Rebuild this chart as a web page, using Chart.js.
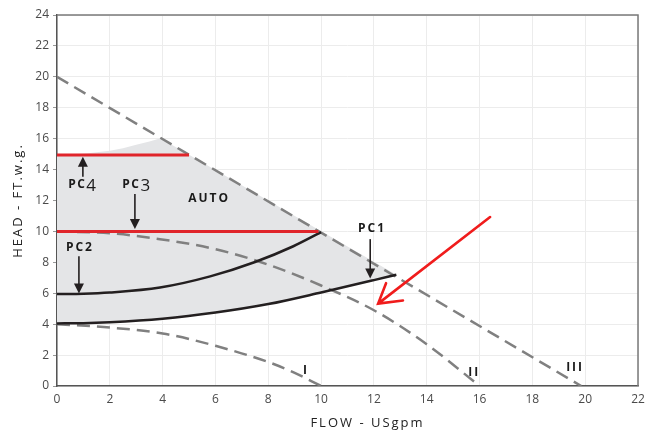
<!DOCTYPE html>
<html>
<head>
<meta charset="utf-8">
<script src="https://cdn.jsdelivr.net/npm/chart.js@4.4.1/dist/chart.umd.min.js"></script>
<style>
html,body{margin:0;padding:0;background:#fff;}
#wrap{width:647px;height:435px;position:relative;}
</style>
</head>
<body>
<div id="wrap"><canvas id="c" width="647" height="435"></canvas></div>
<script>
// ---- data ----
const xTicks = [0,2,4,6,8,10,12,14,16,18,20,22];
const yTicks = [0,2,4,6,8,10,12,14,16,18,20,22,24];

const curveIIIFlow = [0, 19.85];
const curveIIIHead = [20, 0];

const curveIIFlow = [0, 2, 3.9, 6, 8, 10, 12, 14, 16];
const curveIIHead = [10, 9.88, 9.5, 8.85, 7.85, 6.5, 4.9, 2.7, 0];

const curveIFlow = [0, 2, 4, 6, 8, 9, 10];
const curveIHead = [4.0, 3.78, 3.4, 2.6, 1.55, 0.85, 0];

const pc1Flow = [0, 1, 2, 4, 6, 8, 10, 12, 12.85];
const pc1Head = [4.05, 4.06, 4.12, 4.35, 4.75, 5.3, 6.05, 6.85, 7.2];

const pc2Flow = [0, 1, 2, 3.9, 5.8, 7.5, 8.95, 10.0];
const pc2Head = [5.95, 5.97, 6.05, 6.37, 7.09, 8.02, 9.04, 9.95];

const pc3Flow = [0, 9.9];
const pc3Head = [10, 10];

const pc4Flow = [0, 5.0];
const pc4Head = [14.95, 14.95];

const autoTopFlow = [0, 1, 2, 2.5, 3, 3.5, 3.92, 12.85];
const autoTopHead = [14.97, 15.02, 15.22, 15.38, 15.6, 15.82, 16.02, 7.2];

const curveLabels = ['I', 'II', 'III'];
const modeLabels = ['PC1', 'PC2', 'PC3', 'PC4', 'AUTO'];

// ---- helpers ----
const pts = (xs, ys) => xs.map((x, i) => ({x: x, y: ys[i]}));

const DASH_COLOR = '#808080';
const BLACK = '#231f20';
const RED = '#e0252b';

const datasets = [
  {label: 'III', data: pts(curveIIIFlow, curveIIIHead), borderColor: DASH_COLOR, borderWidth: 2.5, borderDash: [13, 7], tension: 0, order: 5},
  {label: 'II', data: pts(curveIIFlow, curveIIHead), borderColor: DASH_COLOR, borderWidth: 2.5, borderDash: [13, 7], cubicInterpolationMode: 'monotone', order: 5},
  {label: 'I', data: pts(curveIFlow, curveIHead), borderColor: DASH_COLOR, borderWidth: 2.5, borderDash: [13, 7], cubicInterpolationMode: 'monotone', order: 5},
  {label: 'PC1', data: pts(pc1Flow, pc1Head), borderColor: BLACK, borderWidth: 2.5, cubicInterpolationMode: 'monotone', order: 2},
  {label: 'PC2', data: pts(pc2Flow, pc2Head), borderColor: BLACK, borderWidth: 2.5, cubicInterpolationMode: 'monotone', order: 2},
  {label: 'PC3', data: pts(pc3Flow, pc3Head), borderColor: RED, borderWidth: 3, tension: 0, order: 1},
  {label: 'PC4', data: pts(pc4Flow, pc4Head), borderColor: RED, borderWidth: 3, tension: 0, order: 1},
  {label: 'AUTO', data: pts(autoTopFlow, autoTopHead), borderColor: 'rgba(0,0,0,0)', borderWidth: 0, tension: 0,
   fill: {target: 3}, backgroundColor: '#e4e5e7', order: 10}
];

// label / arrow placement (data coordinates)
const textMarks = [
  {t: 'PC', d: '4', x: 0.95, y: 13.0},
  {t: 'PC', d: '3', x: 3.0, y: 13.0},
  {t: 'AUTO', x: 5.72, y: 12.1},
  {t: 'PC2', x: 0.83, y: 8.94},
  {t: 'PC1', x: 11.89, y: 10.21},
  {t: 'I', x: 9.39, y: 0.98},
  {t: 'II', x: 15.76, y: 0.85},
  {t: 'III', x: 19.58, y: 1.19}
];
const blackArrows = [
  {x1: 0.98, y1: 13.53, x2: 0.98, y2: 14.83},
  {x1: 2.95, y1: 12.42, x2: 2.95, y2: 10.15},
  {x1: 0.83, y1: 8.39, x2: 0.83, y2: 5.98},
  {x1: 11.86, y1: 9.5, x2: 11.86, y2: 6.96}
];
const redArrow = {x1: 16.4, y1: 10.93, x2: 12.16, y2: 5.33, w1x: 13.1, w1y: 5.53, w2x: 12.46, w2y: 6.65};

const deco = {
  id: 'deco',
  afterDatasetsDraw(chart) {
    const ctx = chart.ctx;
    const xs = chart.scales.x, ys = chart.scales.y;
    const a = chart.chartArea;
    const X = v => xs.getPixelForValue(v), Y = v => ys.getPixelForValue(v);
    ctx.save();
    // frame (top / right)
    ctx.strokeStyle = '#7a7a7a';
    ctx.lineWidth = 1.5;
    ctx.beginPath();
    ctx.moveTo(a.left, a.top); ctx.lineTo(a.right, a.top); ctx.lineTo(a.right, a.bottom);
    ctx.stroke();

    // black arrows
    ctx.strokeStyle = BLACK; ctx.fillStyle = BLACK; ctx.lineWidth = 1.6;
    blackArrows.forEach(ar => {
      const x1 = X(ar.x1), y1 = Y(ar.y1), x2 = X(ar.x2), y2 = Y(ar.y2);
      const dir = Math.sign(y2 - y1);
      ctx.beginPath(); ctx.moveTo(x1, y1); ctx.lineTo(x2, y2 - dir * 8); ctx.stroke();
      ctx.beginPath();
      ctx.moveTo(x2, y2); ctx.lineTo(x2 - 5, y2 - dir * 10); ctx.lineTo(x2 + 5, y2 - dir * 10); ctx.closePath(); ctx.fill();
    });

    // red arrow
    ctx.strokeStyle = '#f01c1c'; ctx.lineWidth = 2.6; ctx.lineCap = 'round';
    ctx.beginPath();
    ctx.moveTo(X(redArrow.x1), Y(redArrow.y1)); ctx.lineTo(X(redArrow.x2), Y(redArrow.y2));
    ctx.moveTo(X(redArrow.w1x), Y(redArrow.w1y)); ctx.lineTo(X(redArrow.x2), Y(redArrow.y2)); ctx.lineTo(X(redArrow.w2x), Y(redArrow.w2y));
    ctx.stroke();

    // text labels
    ctx.fillStyle = '#1a1a1a';
    ctx.textBaseline = 'middle';
    textMarks.forEach(m => {
      ctx.letterSpacing = '2px';
      ctx.font = 'bold 12px "Open Sans"';
      if (m.d) {
        ctx.letterSpacing = '1.5px';
        const w1 = ctx.measureText(m.t).width;
        ctx.font = '17px "Open Sans"';
        ctx.letterSpacing = '0px';
        const w2 = ctx.measureText(m.d).width;
        const x0 = X(m.x) - (w1 + w2) / 2;
        ctx.textAlign = 'left';
        ctx.font = 'bold 12px "Open Sans"'; ctx.letterSpacing = '1.5px';
        ctx.fillText(m.t, x0, Y(m.y));
        ctx.font = '17px "Open Sans"'; ctx.letterSpacing = '0px';
        ctx.fillText(m.d, x0 + w1, Y(m.y) + 1.5);
      } else {
        ctx.textAlign = 'center';
        ctx.fillText(m.t, X(m.x) + 1, Y(m.y));
      }
    });

    // axis titles
    ctx.letterSpacing = '2px';
    ctx.fillStyle = '#222';
    ctx.font = '13px "Open Sans"';
    ctx.textAlign = 'center';
    ctx.fillText('FLOW - USgpm', (a.left + a.right) / 2 + 20, 423);
    ctx.translate(18, (a.top + a.bottom) / 2);
    ctx.rotate(-Math.PI / 2);
    ctx.fillText('HEAD - FT.w.g.', 0, 0);
    ctx.restore();
  }
};

new Chart(document.getElementById('c'), {
  type: 'scatter',
  data: {datasets: datasets},
  options: {
    responsive: false,
    animation: false,
    showLine: true,
    layout: {padding: {top: 15, right: 9, left: 0, bottom: 0}},
    elements: {point: {radius: 0, hoverRadius: 0}, line: {fill: false}},
    plugins: {legend: {display: false}, tooltip: {enabled: false}},
    scales: {
      x: {
        type: 'linear', min: 0, max: 22,
        afterBuildTicks: s => { s.ticks = xTicks.map(v => ({value: v})); },
        afterFit: s => { s.height = 49; s.paddingLeft = 0; s.paddingRight = 0; },
        ticks: {color: '#4a4a4a', font: {family: '"Open Sans"', size: 12}, padding: 6, maxRotation: 0},
        grid: {color: '#ececec', drawTicks: false},
        border: {color: '#555', width: 1.5}
      },
      y: {
        type: 'linear', min: 0, max: 24,
        afterBuildTicks: s => { s.ticks = yTicks.map(v => ({value: v})); },
        afterFit: s => { s.width = 57; s.paddingTop = 0; s.paddingBottom = 0; },
        ticks: {color: '#4a4a4a', font: {family: '"Open Sans"', size: 12}, padding: 4},
        grid: {color: '#ececec', tickLength: 4, tickColor: '#999'},
        border: {color: '#555', width: 1.5}
      }
    }
  },
  plugins: [deco]
});
</script>
</body>
</html>
